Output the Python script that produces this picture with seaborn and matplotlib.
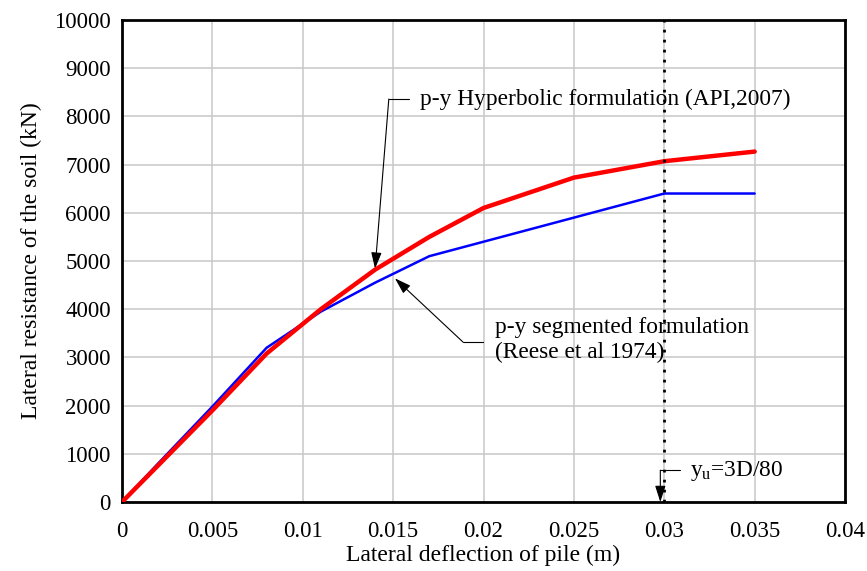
import numpy as np
import pandas as pd
import seaborn as sns
import matplotlib.pyplot as plt

# deflection (m) and soil resistance (kN)
hyp_y = [0, 0.002, 0.005, 0.008, 0.011, 0.014, 0.017, 0.020, 0.025, 0.030, 0.035]
hyp_p = [0, 760, 1900, 3080, 4000, 4820, 5500, 6100, 6730, 7070, 7270]
seg_y = [0, 0.002, 0.005, 0.008, 0.011, 0.014, 0.017, 0.020, 0.030, 0.035]
seg_p = [0, 800, 1980, 3200, 3950, 4550, 5100, 5400, 6400, 6400]
y_u = 0.03

x_ticks = [0, 0.005, 0.01, 0.015, 0.02, 0.025, 0.03, 0.035, 0.04]
x_labels = ["0", "0.005", "0.01", "0.015", "0.02", "0.025", "0.03", "0.035", "0.04"]
y_ticks = list(range(0, 10001, 1000))

hyp = pd.DataFrame({"y": hyp_y, "p": hyp_p})
seg = pd.DataFrame({"y": seg_y, "p": seg_p})

sns.set_style("whitegrid")
plt.rcParams["font.family"] = ["Liberation Serif", "DejaVu Serif"]
plt.rcParams["mathtext.fontset"] = "custom"
plt.rcParams["mathtext.rm"] = "Liberation Serif"
plt.rcParams["mathtext.it"] = "Liberation Serif"
plt.rcParams["text.color"] = "black"
plt.rcParams["axes.labelcolor"] = "black"

fig = plt.figure(figsize=(8.67, 5.71), dpi=100)
ax = fig.add_axes([0.1407, 0.1208, 0.834, 0.8442])

sns.lineplot(data=seg, x="y", y="p", color="#0000ff", linewidth=1.8,
             sort=False, estimator=None, ax=ax, zorder=3)
sns.lineplot(data=hyp, x="y", y="p", color="#ff0000", linewidth=3.2,
             sort=False, estimator=None, ax=ax, zorder=4)

ax.plot([y_u, y_u], [0, 10000], color="black", linestyle=(0, (1, 2.6)),
        linewidth=2.0, zorder=5)

ax.set_xlim(0, 0.04)
ax.set_ylim(0, 10000)
ax.set_xticks(x_ticks)
ax.set_xticklabels(x_labels)
ax.set_yticks(y_ticks)
ax.tick_params(axis="both", length=0, labelsize=16.5, colors="black")
ax.tick_params(axis="x", pad=14)
ax.tick_params(axis="y", pad=8)
ax.grid(True, color="#c8c8c8", linewidth=1.1)
for s in ax.spines.values():
    s.set_color("black")
    s.set_linewidth(2.0)

ax.set_xlabel("Lateral deflection of pile (m)", fontsize=17, labelpad=2)
ax.set_ylabel("Lateral resistance of the soil (kN)", fontsize=17, labelpad=9)

arrow = dict(arrowstyle="-|>,head_length=1.0,head_width=0.32", color="black",
             linewidth=0.8, shrinkA=0, shrinkB=0)

# hyperbolic callout
ax.plot([0.01476, 0.01588], [8360, 8360], color="black", linewidth=0.8)
ax.annotate("", xy=(0.01400, 4840), xytext=(0.01476, 8360), arrowprops=arrow)
ax.text(0.01650, 8360, "p-y Hyperbolic formulation (API,2007)", fontsize=16.8,
        va="center", ha="left")

# segmented callout
ax.plot([0.01886, 0.01997], [3320, 3320], color="black", linewidth=0.8)
ax.annotate("", xy=(0.01510, 4640), xytext=(0.01886, 3320), arrowprops=arrow)
ax.text(0.02063, 3620, "p-y segmented formulation", fontsize=16.8,
        va="center", ha="left")
ax.text(0.02063, 3100, "(Reese et al 1974)", fontsize=16.8,
        va="center", ha="left")

# y_u callout
ax.plot([0.02978, 0.03088], [660, 660], color="black", linewidth=0.8)
ax.annotate("", xy=(0.02978, 0), xytext=(0.02978, 660), arrowprops=arrow)
ax.text(0.03140, 640, r"y$_{\mathrm{u}}$=3D/80", fontsize=16.8,
        va="center", ha="left")

fig.savefig("out.png", dpi=100)
